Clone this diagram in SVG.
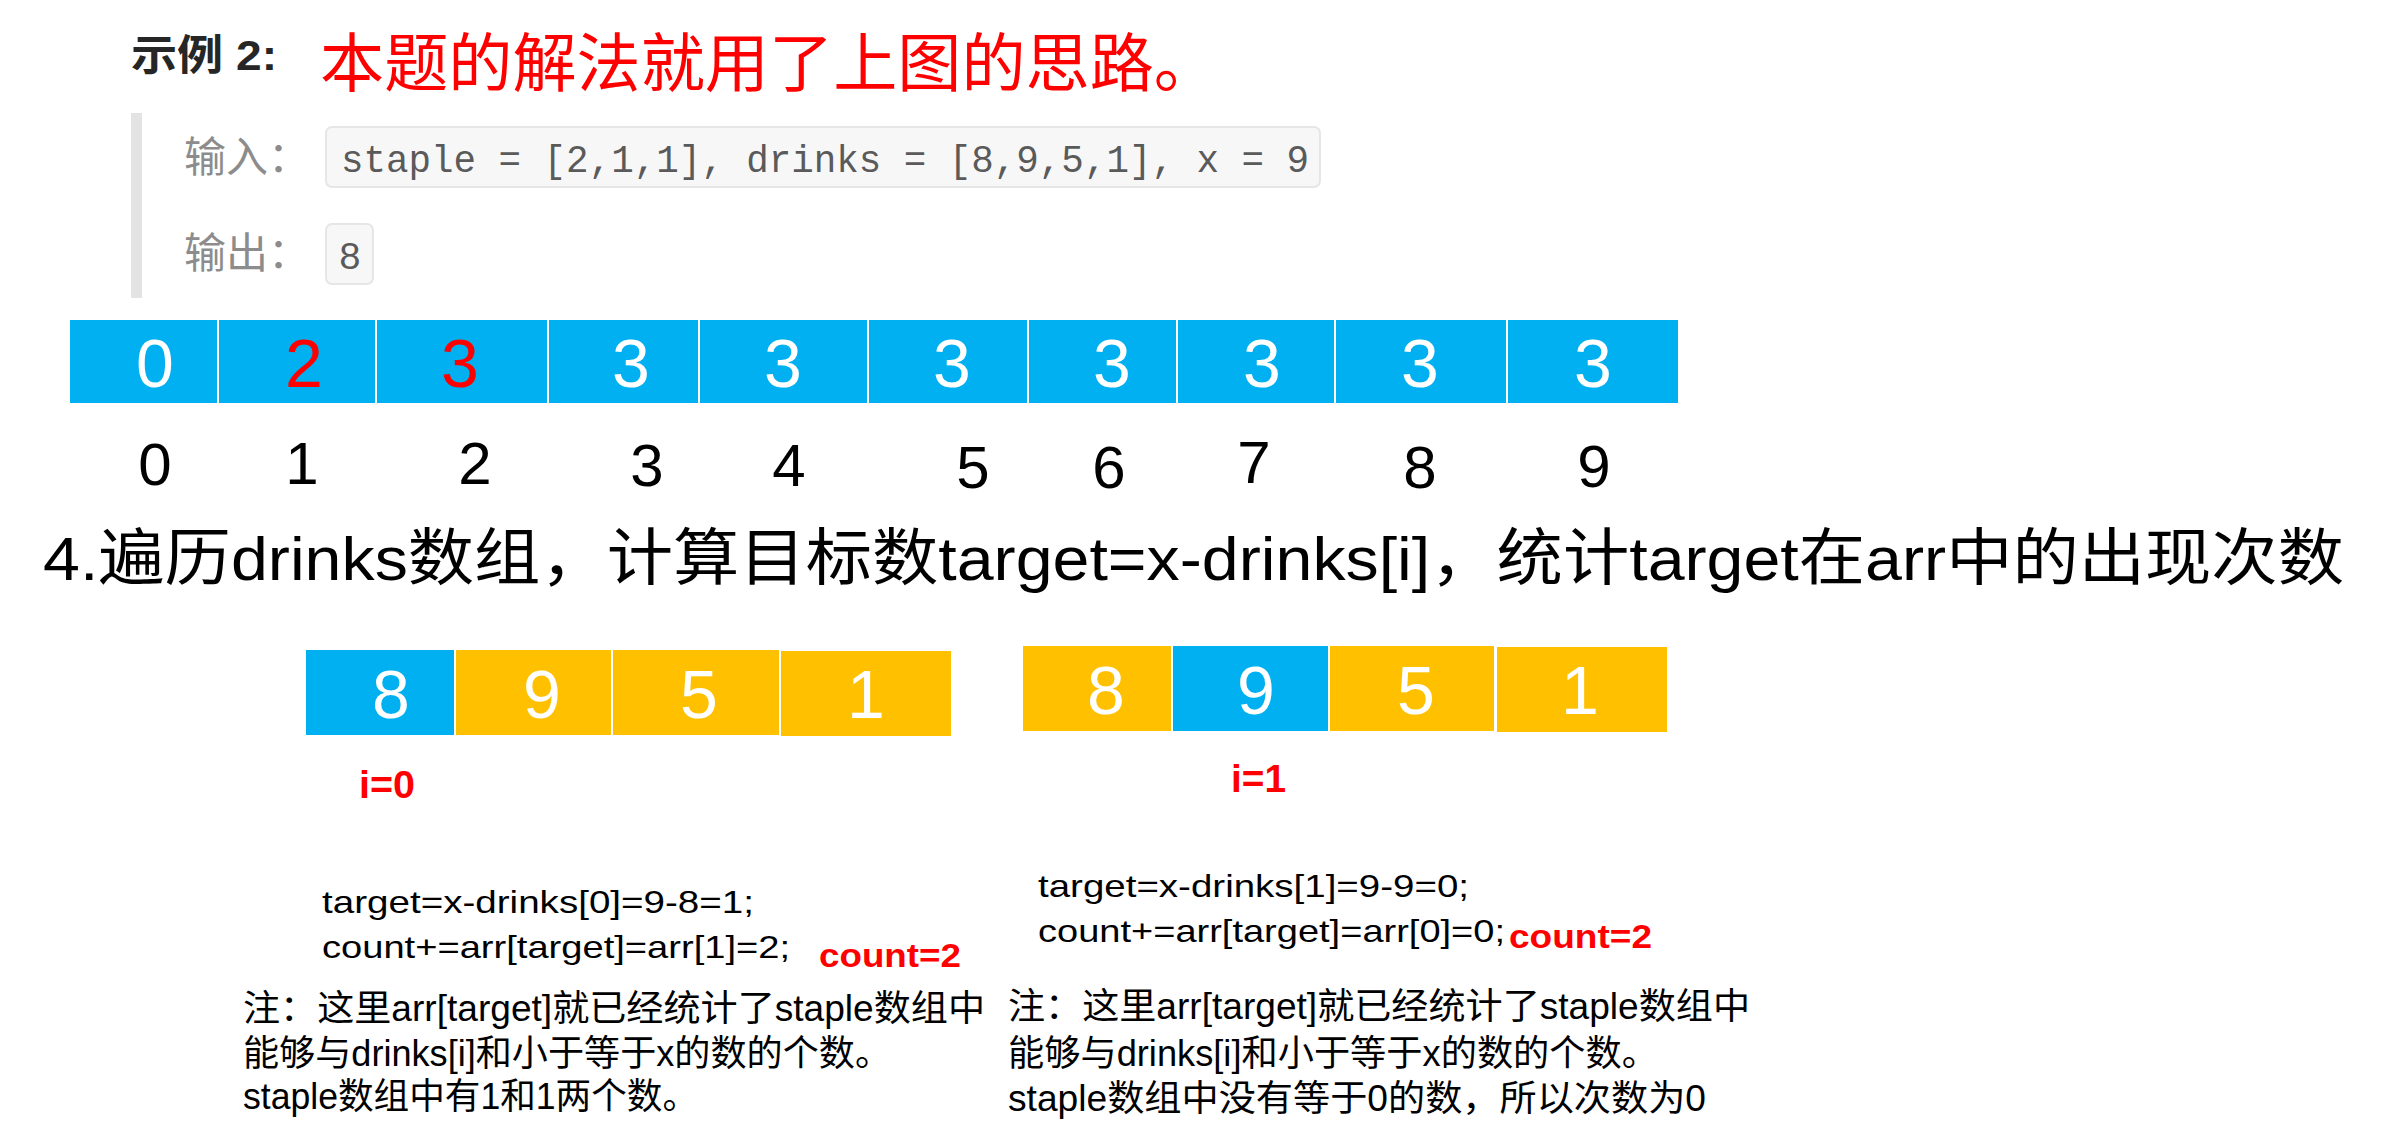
<svg xmlns="http://www.w3.org/2000/svg" width="2387" height="1142" viewBox="0 0 2387 1142">
<style>
.cjk{font-family:"Liberation Sans","Noto Sans CJK SC",sans-serif}
.blue{fill:#00B0F0}
.yel{fill:#FFC000}
.cd{font-family:"Liberation Sans",sans-serif;font-size:68px;fill:#fff;text-anchor:middle}
.idx{font-family:"Liberation Sans",sans-serif;font-size:60px;fill:#000;text-anchor:middle}
.red{fill:#FF0000}
.lbl{font-family:"Noto Sans CJK SC",sans-serif;font-size:42px;fill:#8c8c8c}
.box{fill:#f7f7f8;stroke:#e6e6e6;stroke-width:2}
.code{font-family:"Liberation Mono",monospace;font-size:38px;fill:#5a5a5a}
.ln{font-family:"Liberation Sans","Noto Sans CJK SC",sans-serif;font-size:32px;fill:#000}
.note{font-family:"Liberation Sans","Noto Sans CJK SC",sans-serif;font-size:36px;fill:#000}
.rb{font-family:"Liberation Sans",sans-serif;font-weight:bold;fill:#FF0000}
</style>
<rect width="2387" height="1142" fill="#fff"/>
<g id="header">
<text x="131" y="70" class="cjk" font-size="42" font-weight="bold" fill="#262626" textLength="146" lengthAdjust="spacingAndGlyphs">示例 2:</text>
<text x="320" y="86" class="cjk red" font-size="64" textLength="898" lengthAdjust="spacingAndGlyphs">本题的解法就用了上图的思路。</text>
<rect x="131" y="113" width="11" height="185" fill="#e3e3e3"/>
<text x="184" y="172" class="lbl">输入：</text>
<rect x="326" y="127" width="994" height="60" rx="6" class="box"/>
<text x="341" y="172" class="code" textLength="968" lengthAdjust="spacingAndGlyphs">staple = [2,1,1], drinks = [8,9,5,1], x = 9</text>
<text x="184" y="268" class="lbl">输出：</text>
<rect x="326" y="224" width="47" height="60" rx="6" class="box"/>
<text x="350" y="269" class="code" font-size="44" text-anchor="middle">8</text>
</g>
<g id="arr">
<g id="arr0"><rect x="70" y="320" width="147" height="83" class="blue"/><text x="155" y="387" class="cd">0</text></g>
<g id="arr1"><rect x="219" y="320" width="156" height="83" class="blue"/><text x="304" y="387" class="cd red">2</text></g>
<g id="arr2"><rect x="377" y="320" width="170" height="83" class="blue"/><text x="460" y="387" class="cd red">3</text></g>
<g id="arr3"><rect x="549" y="320" width="149" height="83" class="blue"/><text x="631" y="387" class="cd">3</text></g>
<g id="arr4"><rect x="700" y="320" width="167" height="83" class="blue"/><text x="783" y="387" class="cd">3</text></g>
<g id="arr5"><rect x="869" y="320" width="158" height="83" class="blue"/><text x="952" y="387" class="cd">3</text></g>
<g id="arr6"><rect x="1029" y="320" width="147" height="83" class="blue"/><text x="1112" y="387" class="cd">3</text></g>
<g id="arr7"><rect x="1178" y="320" width="156" height="83" class="blue"/><text x="1262" y="387" class="cd">3</text></g>
<g id="arr8"><rect x="1336" y="320" width="170" height="83" class="blue"/><text x="1420" y="387" class="cd">3</text></g>
<g id="arr9"><rect x="1508" y="320" width="170" height="83" class="blue"/><text x="1593" y="387" class="cd">3</text></g>
</g>
<g id="indices">
<text x="155" y="485" class="idx">0</text>
<text x="302" y="484" class="idx">1</text>
<text x="475" y="484" class="idx">2</text>
<text x="647" y="486" class="idx">3</text>
<text x="789" y="486" class="idx">4</text>
<text x="973" y="488" class="idx">5</text>
<text x="1109" y="488" class="idx">6</text>
<text x="1254" y="483" class="idx">7</text>
<text x="1420" y="488" class="idx">8</text>
<text x="1594" y="487" class="idx">9</text>
</g>
<g id="step4">
<text x="43" y="580" class="cjk" font-size="62" fill="#000" textLength="2301" lengthAdjust="spacingAndGlyphs">4.遍历drinks数组，计算目标数target=x-drinks[i]，统计target在arr中的出现次数</text>
</g>
<g id="drinksA">
<g id="a0"><rect x="306" y="650" width="148" height="85" class="blue"/><text x="391" y="718" class="cd" font-size="67">8</text></g>
<g id="a1"><rect x="456" y="650" width="155" height="85" class="yel"/><text x="542" y="718" class="cd" font-size="67">9</text></g>
<g id="a2"><rect x="613" y="650" width="166" height="85" class="yel"/><text x="699" y="718" class="cd" font-size="67">5</text></g>
<g id="a3"><rect x="781" y="651" width="170" height="85" class="yel"/><text x="866" y="718" class="cd" font-size="67">1</text></g>
<text x="359" y="798" class="rb" font-size="38" textLength="56" lengthAdjust="spacingAndGlyphs">i=0</text>
</g>
<g id="drinksB">
<g id="b0"><rect x="1023" y="646" width="148" height="85" class="yel"/><text x="1106" y="714" class="cd" font-size="67">8</text></g>
<g id="b1"><rect x="1173" y="646" width="155" height="85" class="blue"/><text x="1256" y="714" class="cd" font-size="67">9</text></g>
<g id="b2"><rect x="1330" y="646" width="164" height="85" class="yel"/><text x="1416" y="714" class="cd" font-size="67">5</text></g>
<g id="b3"><rect x="1497" y="647" width="170" height="85" class="yel"/><text x="1580" y="714" class="cd" font-size="67">1</text></g>
<text x="1231" y="792" class="rb" font-size="38" textLength="55" lengthAdjust="spacingAndGlyphs">i=1</text>
</g>
<g id="explainA">
<text x="322" y="913" class="ln" textLength="432" lengthAdjust="spacingAndGlyphs">target=x-drinks[0]=9-8=1;</text>
<text x="322" y="958" class="ln" textLength="468" lengthAdjust="spacingAndGlyphs">count+=arr[target]=arr[1]=2;</text>
<text x="819" y="967" class="rb" font-size="34" textLength="142" lengthAdjust="spacingAndGlyphs">count=2</text>
<text x="243" y="1021" class="note" textLength="742" lengthAdjust="spacingAndGlyphs">注：这里arr[target]就已经统计了staple数组中</text>
<text x="243" y="1066" class="note" textLength="648" lengthAdjust="spacingAndGlyphs">能够与drinks[i]和小于等于x的数的个数。</text>
<text x="243" y="1109" class="note" textLength="455" lengthAdjust="spacingAndGlyphs">staple数组中有1和1两个数。</text>
</g>
<g id="explainB">
<text x="1038" y="897" class="ln" textLength="431" lengthAdjust="spacingAndGlyphs">target=x-drinks[1]=9-9=0;</text>
<text x="1038" y="942" class="ln" textLength="467" lengthAdjust="spacingAndGlyphs">count+=arr[target]=arr[0]=0;</text>
<text x="1509" y="948" class="rb" font-size="34" textLength="143" lengthAdjust="spacingAndGlyphs">count=2</text>
<text x="1008" y="1019" class="note" textLength="742" lengthAdjust="spacingAndGlyphs">注：这里arr[target]就已经统计了staple数组中</text>
<text x="1008" y="1066" class="note" textLength="650" lengthAdjust="spacingAndGlyphs">能够与drinks[i]和小于等于x的数的个数。</text>
<text x="1008" y="1111" class="note" textLength="698" lengthAdjust="spacingAndGlyphs">staple数组中没有等于0的数，所以次数为0</text>
</g>
<g id="connectors"/>
</svg>
